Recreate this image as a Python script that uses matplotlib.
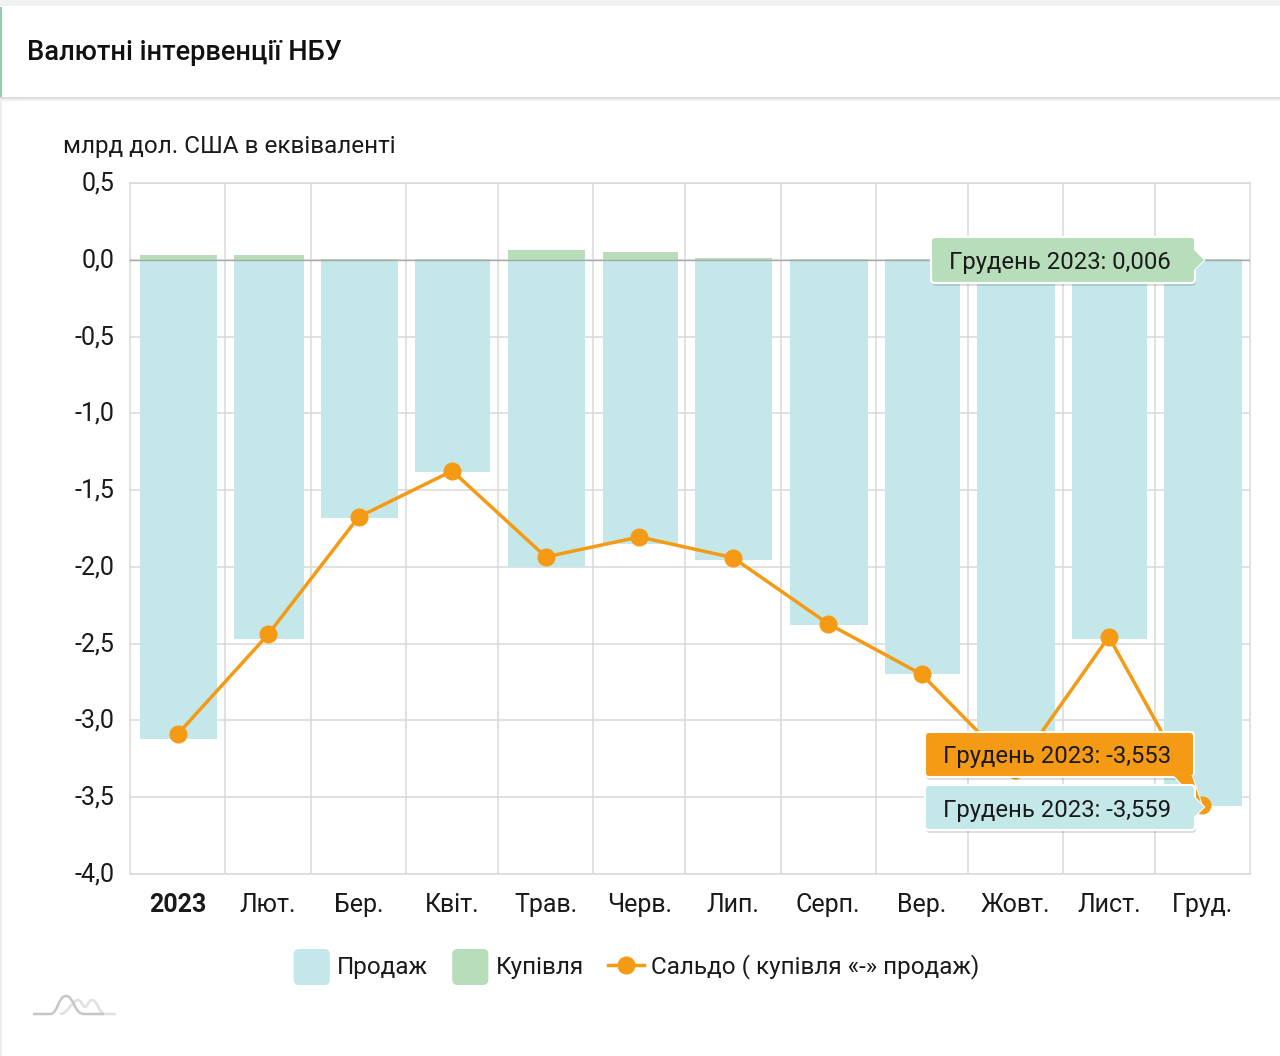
import matplotlib
matplotlib.use('Agg')
import matplotlib.pyplot as plt
from matplotlib.patches import FancyBboxPatch, Rectangle, PathPatch, Polygon
from matplotlib.path import Path
from matplotlib.legend_handler import HandlerPatch
from matplotlib.ticker import FixedLocator
from matplotlib.transforms import ScaledTranslation

plt.rcParams['font.family'] = ['Roboto', 'DejaVu Sans']

# Data
months = ['2023', 'Лют.', 'Бер.', 'Квіт.', 'Трав.', 'Черв.', 'Лип.', 'Серп.', 'Вер.', 'Жовт.', 'Лист.', 'Груд.']
days_in_month = [31, 28, 31, 30, 31, 30, 31, 31, 30, 31, 30, 31]
sales = [-3.12, -2.47, -1.68, -1.385, -2.0, -1.85, -1.955, -2.38, -2.70, -3.30, -2.47, -3.559]
purchases = [0.03, 0.03, 0.003, 0.003, 0.065, 0.05, 0.012, 0.003, 0.003, 0.003, 0.003, 0.006]
balance = [-3.09, -2.44, -1.675, -1.375, -1.935, -1.805, -1.94, -2.37, -2.70, -3.32, -2.455, -3.553]
y_ticks = [0.5, 0.0, -0.5, -1.0, -1.5, -2.0, -2.5, -3.0, -3.5, -4.0]
y_labels = ['0,5', '0,0', '-0,5', '-1,0', '-1,5', '-2,0', '-2,5', '-3,0', '-3,5', '-4,0']

SALE_COLOR = '#C4E8E9'
BUY_COLOR = '#B7DDBA'
LINE_COLOR = '#F59A14'
GRID_COLOR = '#D9D9D9'
TEXT_COLOR = '#1A1A1A'

W, H = 1280, 1056
fig = plt.figure(figsize=(W / 100, H / 100), dpi=100, facecolor='white')

# Month edges and centres on a day scale
edges = [0]
for d in days_in_month:
    edges.append(edges[-1] + d)
centers = [(edges[i] + edges[i + 1]) / 2 for i in range(12)]
bar_centers = [c + 0.25 for c in centers]
widths = [d * 0.815 for d in days_in_month]

ax = fig.add_axes([130 / W, 1 - 874 / H, 1120 / W, 691 / H])
ax.set_xlim(0, 365)
ax.set_ylim(-4.0, 0.5)
ax.set_axisbelow(True)

ax.xaxis.set_major_locator(FixedLocator(edges[1:-1]))
ax.xaxis.set_minor_locator(FixedLocator(centers))
ax.set_xticklabels([], minor=False)
ax.set_xticklabels(months, minor=True, fontsize=18, color=TEXT_COLOR)
ax.tick_params(axis='x', which='major', length=0)
ax.tick_params(axis='x', which='minor', length=0, pad=14)
ax.get_xticklabels(minor=True)[0].set_fontweight('bold')
ax.set_yticks(y_ticks)
ax.set_yticklabels(y_labels, fontsize=18, color=TEXT_COLOR)
ax.tick_params(axis='y', length=0, pad=11)
# y labels sit a little above their grid lines in the original
up = ScaledTranslation(0, 2 / 100, fig.dpi_scale_trans)
for lab in ax.get_yticklabels():
    lab.set_transform(lab.get_transform() + up)
ax.grid(True, axis='both', which='major', color=GRID_COLOR, linewidth=1.1)
for s in ax.spines.values():
    s.set_color(GRID_COLOR)
    s.set_linewidth(1.1)

b1 = ax.bar(bar_centers, sales, width=widths, color=SALE_COLOR, label='Продаж', zorder=2)
b2 = ax.bar(bar_centers, purchases, width=widths, color=BUY_COLOR, label='Купівля', zorder=2)
ax.axhline(0, color='#A8A8A8', linewidth=1, zorder=3)
line, = ax.plot(centers, balance, '-o', color=LINE_COLOR, linewidth=2.5, markersize=12,
                label='Сальдо ( купівля «-» продаж)', zorder=4, clip_on=False)


class RoundHandle(HandlerPatch):
    def create_artists(self, legend, orig, xd, yd, width, height, fontsize, trans):
        p = FancyBboxPatch((-xd, -yd - 8), width, 26, boxstyle='round,pad=0,rounding_size=4',
                           facecolor=orig.get_facecolor(), edgecolor='none', mutation_aspect=1)
        p.set_transform(trans)
        return [p]


fig.legend(handles=[b1.patches[0], b2.patches[0], line],
           labels=['Продаж', 'Купівля', 'Сальдо ( купівля «-» продаж)'],
           handler_map={b1.patches[0]: RoundHandle(), b2.patches[0]: RoundHandle()},
           loc='center', bbox_to_anchor=(636.5 / W, 1 - 967 / H), ncol=3, frameon=False,
           fontsize=17.5, labelcolor=TEXT_COLOR, handlelength=1.49, handletextpad=0.29,
           columnspacing=1.0)

# Overlay in pixel coordinates for the page furniture and the tooltips
ov = fig.add_axes([0, 0, 1, 1], facecolor='none', zorder=10)
ov.set_xlim(0, W)
ov.set_ylim(H, 0)
ov.axis('off')

ov.add_patch(Rectangle((0, 0), W, 6, facecolor='#F2F2F2', edgecolor='none'))
ov.add_patch(Rectangle((0, 97), W, 2, facecolor='#DDDDDD', edgecolor='none'))
ov.add_patch(Rectangle((0, 99), W, 2, facecolor='#EFEFEF', edgecolor='none'))
ov.add_patch(Rectangle((0, 7), 2, 90, facecolor='#8FCFAE', edgecolor='none'))
ov.add_patch(Rectangle((0, 99), 1.5, H - 99, facecolor='#EEEEEE', edgecolor='none'))
ov.text(27, 53, 'Валютні інтервенції НБУ', fontsize=19.6, fontweight='medium', color='#111111',
        ha='left', va='center')
ov.text(63, 147, 'млрд дол. США в еквіваленті', fontsize=17.5, color=TEXT_COLOR, ha='left', va='center')


def tooltip(x0, y0, x1, y1, color, text, tip=None):
    ov.add_patch(FancyBboxPatch((x0 + 1, y0 + 3), x1 - x0, y1 - y0, boxstyle='round,pad=0,rounding_size=4',
                                facecolor='#00000020', edgecolor='none'))
    if tip:
        ov.add_patch(Polygon(tip, closed=True, facecolor=color, edgecolor='white', linewidth=1.5))
    ov.add_patch(FancyBboxPatch((x0, y0), x1 - x0, y1 - y0, boxstyle='round,pad=0,rounding_size=4',
                                facecolor=color, edgecolor='white', linewidth=1.5))
    if tip:
        ov.add_patch(Polygon(tip, closed=True, facecolor=color, edgecolor='none'))
    ov.text(x0 + 18, (y0 + y1) / 2 + 2.5, text, fontsize=17.2, color=TEXT_COLOR, ha='left', va='center')


tooltip(931, 237, 1195, 283, BUY_COLOR, 'Грудень 2023: 0,006',
        [(1194, 250), (1204, 260), (1194, 270)])
tooltip(925, 732, 1194, 777, LINE_COLOR, 'Грудень 2023: -3,553',
        [(1174, 776), (1192, 776), (1202, 806)])
tooltip(925, 785, 1195, 830, SALE_COLOR, 'Грудень 2023: -3,559',
        [(1194, 797), (1204, 807), (1194, 817)])

# Small logo at the bottom left
M, L, C = Path.MOVETO, Path.LINETO, Path.CURVE4
logo_back = Path([(60, 1014), (68, 1014), (72, 1000), (78, 1000), (82, 1000), (82, 1007), (85, 1007),
                  (88, 1007), (88, 1000), (92, 1000), (98, 1000), (98, 1014), (106, 1014), (116, 1014)],
                 [M, C, C, C, C, C, C, C, C, C, C, C, C, L])
logo_front = Path([(33, 1014), (50, 1014), (58, 1014), (58, 996), (66, 996), (74, 996), (74, 1014),
                   (84, 1014), (104, 1014)],
                  [M, L, C, C, C, C, C, C, L])
ov.add_patch(PathPatch(logo_back, facecolor='none', edgecolor='#E0E0E0', linewidth=1.8))
ov.add_patch(PathPatch(logo_front, facecolor='none', edgecolor='#C6C6C6', linewidth=1.8))

fig.savefig('out.png', dpi=100)
